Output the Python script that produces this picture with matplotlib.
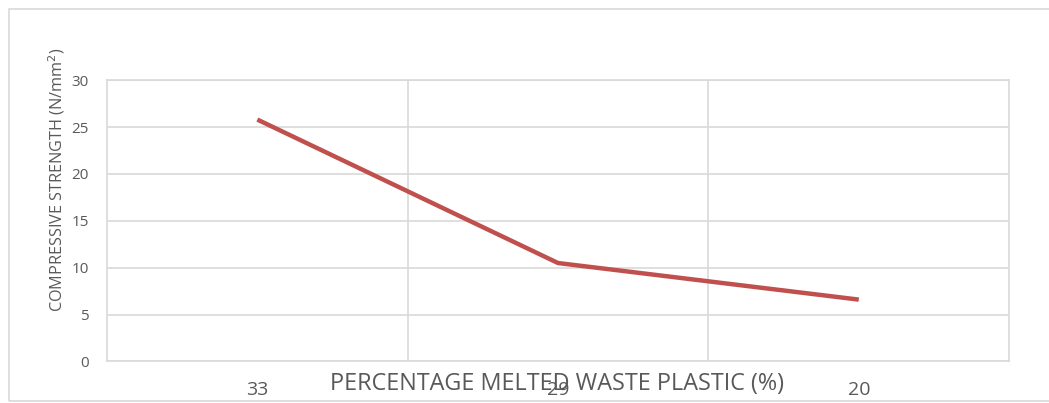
import matplotlib
matplotlib.use("Agg")
import matplotlib.pyplot as plt
from matplotlib.patches import Rectangle

# Compressive strength vs. percentage of melted waste plastic
plastic_pct = ["33", "29", "20"]
strength = [25.8, 10.5, 6.6]
y_ticks = [0, 5, 10, 15, 20, 25, 30]

plt.rcParams["font.family"] = ["Open Sans", "DejaVu Sans"]
text_color = "#595959"
grid_color = "#d9d9d9"
line_color = "#c0504d"

fig = plt.figure(figsize=(10.49, 4.03), dpi=100)
ax = fig.add_axes([0.102, 0.103, 0.860, 0.698])

# Outer chart border
fig.patches.append(Rectangle((9 / 1049, 2 / 403), 1.0, 392 / 403,
                             transform=fig.transFigure, fill=False,
                             edgecolor=grid_color, linewidth=1.2))

x = list(range(len(plastic_pct)))
ax.plot(x, strength, color=line_color, linewidth=3.2, solid_capstyle="butt")

ax.set_xlim(-0.5, len(plastic_pct) - 0.5)
ax.set_ylim(0, 30)
ax.set_yticks(y_ticks)
ax.set_yticklabels([str(v) for v in y_ticks], fontsize=11, color=text_color)
ax.set_xticks(x)
ax.set_xticklabels(plastic_pct, fontsize=14, color=text_color)
ax.set_xticks([i + 0.5 for i in x[:-1]], minor=True)

ax.tick_params(axis="both", which="both", length=0)
ax.tick_params(axis="x", pad=14)
ax.tick_params(axis="y", pad=13)

ax.grid(True, axis="y", color=grid_color, linewidth=1.2)
ax.grid(True, axis="x", which="minor", color=grid_color, linewidth=1.2)
ax.grid(False, axis="x", which="major")
ax.set_axisbelow(True)
for side in ["left", "right", "top", "bottom"]:
    ax.spines[side].set_color(grid_color)
    ax.spines[side].set_linewidth(1.2)

ax.set_ylabel("COMPRESSIVE STRENGTH (N/mm$^2$)", fontsize=11.7, color=text_color,
              va="center")
ax.yaxis.set_label_coords(-0.0554, 0.645)
fig.text(557 / 1049, 1 - 384 / 403, "PERCENTAGE MELTED WASTE PLASTIC (%)",
         ha="center", va="center", fontsize=16.8, color=text_color)

fig.savefig("out.png", dpi=100)
